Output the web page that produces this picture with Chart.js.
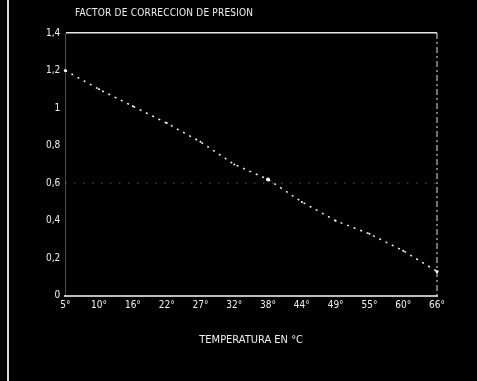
<!DOCTYPE html>
<html>
<head>
<meta charset="utf-8">
<script src="https://cdn.jsdelivr.net/npm/chart.js@4/dist/chart.umd.min.js"></script>
<style>
  html, body { margin: 0; padding: 0; background: #000; }
  .frame { position: relative; width: 477px; height: 381px; background: #000; }
  .frame::before { content: ""; position: absolute; left: 7px; top: 0; bottom: 0; width: 2px; background: #d8d8d8; }
  .chart-title {
    position: absolute; left: 75px; top: 7px;
    color: #f0f0f0; font: 10px 'Liberation Sans Narrow', 'DejaVu Sans Condensed', Arial, sans-serif;
    letter-spacing: 0.2px;
  }
  canvas { display: block; }
</style>
</head>
<body>
<div class="frame">
  <div class="chart-title">FACTOR DE CORRECCION DE PRESION</div>
  <canvas id="pressureChart" width="477" height="381"></canvas>
</div>
<script>
const temperatureLabels = ["5°", "10°", "16°", "22°", "27°", "32°", "38°", "44°", "49°", "55°", "60°", "66°"];
const correctionFactor = [1.2, 1.1, 1.01, 0.92, 0.82, 0.7, 0.62, 0.5, 0.4, 0.33, 0.24, 0.13];
const yTicks = [0, 0.2, 0.4, 0.6, 0.8, 1, 1.2, 1.4];
const dottedGridValue = 0.6;

const fontFamily = "'Liberation Sans Narrow', 'DejaVu Sans Condensed', Arial, sans-serif";

// right dashed edge and the single dotted guide line
const chartFrame = {
  id: "chartFrame",
  beforeDatasetsDraw(chart) {
    const { ctx, chartArea, scales } = chart;
    const y = scales.y.getPixelForValue(dottedGridValue);
    ctx.save();
    ctx.strokeStyle = "rgba(255,255,255,0.5)";
    ctx.lineWidth = 1;
    ctx.setLineDash([1, 8]);
    ctx.beginPath();
    ctx.moveTo(chartArea.left, y);
    ctx.lineTo(chartArea.right, y);
    ctx.stroke();

    ctx.strokeStyle = "#e6e6e6";
    ctx.setLineDash([6, 3, 2, 3]);
    ctx.beginPath();
    ctx.moveTo(chartArea.right, chartArea.top);
    ctx.lineTo(chartArea.right, chartArea.bottom);
    ctx.stroke();
    ctx.restore();
  },
};

new Chart(document.getElementById("pressureChart"), {
  type: "line",
  data: {
    labels: temperatureLabels,
    datasets: [
      {
        label: "Factor",
        data: correctionFactor,
        borderColor: "#f2f2f2",
        borderWidth: 1.5,
        borderDash: [2, 5],
        pointRadius: [1.5, 1, 1, 1, 1, 1, 2, 1, 1, 1, 1, 1.5],
        pointBackgroundColor: "#ffffff",
        pointBorderWidth: 0,
        tension: 0,
        fill: false,
      },
    ],
  },
  plugins: [chartFrame],
  options: {
    responsive: false,
    animation: false,
    layout: { padding: { left: 41, right: 40, top: 33, bottom: 30 } },
    plugins: {
      legend: { display: false },
      tooltip: { enabled: false },
    },
    scales: {
      x: {
        offset: false,
        grid: { display: false, drawTicks: false },
        border: { display: true, color: "#bdbdbd", width: 2 },
        ticks: {
          color: "#f0f0f0",
          font: { family: fontFamily, size: 10 },
          padding: 4,
          maxRotation: 0,
          autoSkip: false,
        },
        title: {
          display: true,
          text: "TEMPERATURA EN °C",
          color: "#f0f0f0",
          font: { family: fontFamily, size: 11 },
          padding: { top: 18 },
        },
      },
      y: {
        min: 0,
        max: 1.4,
        afterBuildTicks: (axis) => {
          axis.ticks = yTicks.map((value) => ({ value }));
        },
        grid: {
          drawTicks: false,
          lineWidth: (ctx) => (ctx.tick && ctx.tick.value === 1.4 ? 1.5 : 0),
          color: "#e8e8e8",
        },
        border: { display: true, color: "rgba(255,255,255,0.3)", width: 1 },
        ticks: {
          color: "#f0f0f0",
          font: { family: fontFamily, size: 10 },
          padding: 5,
          callback: (value) => String(value).replace(".", ","),
        },
      },
    },
  },
});
</script>
</body>
</html>
